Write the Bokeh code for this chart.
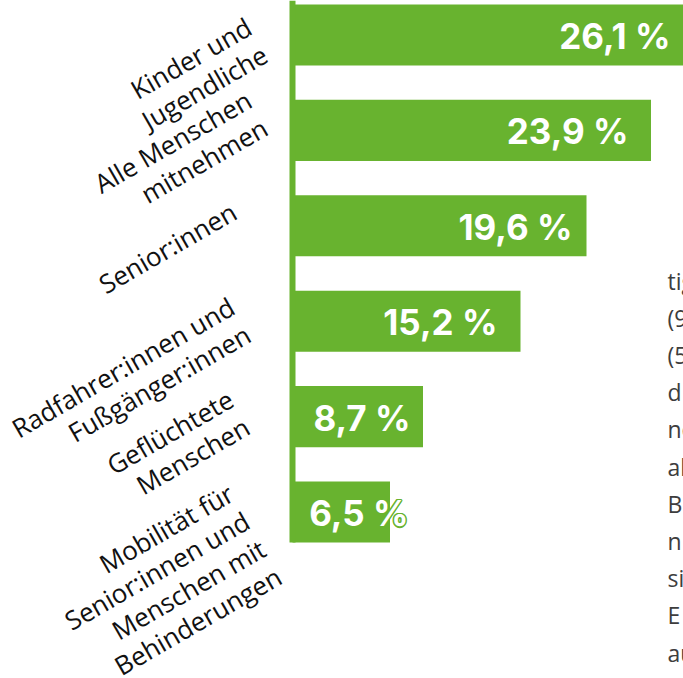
import math
from bokeh.plotting import figure
from bokeh.models import Range1d, ColumnDataSource
from bokeh.core.properties import value
from bokeh.embed import file_html
from bokeh.resources import INLINE

# ---- data ----
categories = [
    "Kinder und\nJugendliche",
    "Alle Menschen\nmitnehmen",
    "Senior:innen",
    "Radfahrer:innen und\nFußgänger:innen",
    "Geflüchtete\nMenschen",
    "Mobilität für\nSenior:innen und\nMenschen mit\nBehinderungen",
]
values = [26.1, 23.9, 19.6, 15.2, 8.7, 6.5]
value_labels = [f"{v:.1f}".replace(".", ",") + " %" for v in values]
side_text = ["tig", "(9", "(5", "d", "ne", "al", "B", "n", "si", "E", "au"]

# ---- style / layout ----
GREEN = "#68b32f"
W, H = 683, 678
px_per_unit_x = 15.0
zero_px = 292.0
px_per_row = 95.4
first_row_px = 34.5
bar_h = 0.64
ANGLE = math.pi / 6
CAT_LH = 32.0
SIDE_LH = 37.2

# per-label nudges (screen px)
cat_dx = [-35.5, -35.5, -58.5, -52.5, -53.5, -37.5]
cat_dy = [3.5, -19.0, -16.5, -3.0, -6.0, 20.5]
val_dx = [-13.5, -22.5, -14.0, -23.0, -12.5, 18.5]
VAL_DY = 1
OUTLINE_SHIFTS = [(-1.5, 0), (1.5, 0), (0, -1.5), (0, 1.5),
                  (-1.1, -1.1), (1.1, -1.1), (-1.1, 1.1), (1.1, 1.1)]

idx = list(range(len(values)))

x_start = -zero_px / px_per_unit_x
x_end = (W - zero_px) / px_per_unit_x
y_top = -first_row_px / px_per_row
y_bottom = y_top + H / px_per_row

p = figure(width=W, height=H,
           x_range=Range1d(x_start, x_end),
           y_range=Range1d(y_bottom, y_top),
           x_axis_location=None, y_axis_location=None,
           output_backend="svg", toolbar_location=None,
           min_border=0, outline_line_color=None,
           background_fill_color="white", border_fill_color="white")
p.grid.visible = False

src = ColumnDataSource(dict(y=idx, v=values, lab=value_labels, vdx=val_dx))

p.hbar(y="y", left=0, right="v", height=bar_h, source=src,
       fill_color=GREEN, line_color=None)

# vertical axis line
p.segment(x0=[0], x1=[0], y0=[y_top], y1=[idx[-1] + bar_h / 2],
          line_color=GREEN, line_width=6)

# value labels: green halo underneath, white text on top
ov, oy, ol, oxo, oyo = [], [], [], [], []
for (sx, sy) in OUTLINE_SHIFTS:
    for i, v in enumerate(values):
        ov.append(v)
        oy.append(i)
        ol.append(value_labels[i])
        oxo.append(val_dx[i] + sx)
        oyo.append(VAL_DY + sy)
p.text(x=ov, y=oy, text=ol, x_offset=oxo, y_offset=oyo,
       text_align="right", text_baseline="middle",
       text_color=GREEN, text_font=value("Inter"), text_font_style="bold",
       text_font_size="35px")
p.text(x="v", y="y", text="lab", source=src, x_offset="vdx", y_offset=VAL_DY,
       text_align="right", text_baseline="middle",
       text_color="white", text_font=value("Inter"), text_font_style="bold",
       text_font_size="35px")

# category labels, one glyph per line, stacked perpendicular to the rotated baseline
cx, cy, ct, cxo, cyo = [], [], [], [], []
sa, ca = math.sin(ANGLE), math.cos(ANGLE)
for i, cat in enumerate(categories):
    lines = cat.split("\n")
    n = len(lines)
    for k, ln in enumerate(lines):
        s = (k - (n - 1) / 2) * CAT_LH
        cx.append(0)
        cy.append(i)
        ct.append(ln)
        cxo.append(cat_dx[i] + s * sa)
        cyo.append(cat_dy[i] + s * ca)
p.text(x=cx, y=cy, text=ct, x_offset=cxo, y_offset=cyo,
       angle=ANGLE, text_align="right", text_baseline="middle",
       text_color="#111111", text_font=value("Open Sans"),
       text_font_size="26px")

# cropped paragraph on the right
n_side = len(side_text)
p.text(x=[x_end] * n_side, y=[2.5] * n_side, text=side_text,
       x_offset=-16, y_offset=[7 + SIDE_LH * k for k in range(n_side)],
       text_align="left", text_baseline="alphabetic",
       text_color="#3d3d3d", text_font=value("Open Sans"),
       text_font_size="23px")

open("out.html", "w").write(file_html(p, INLINE))
